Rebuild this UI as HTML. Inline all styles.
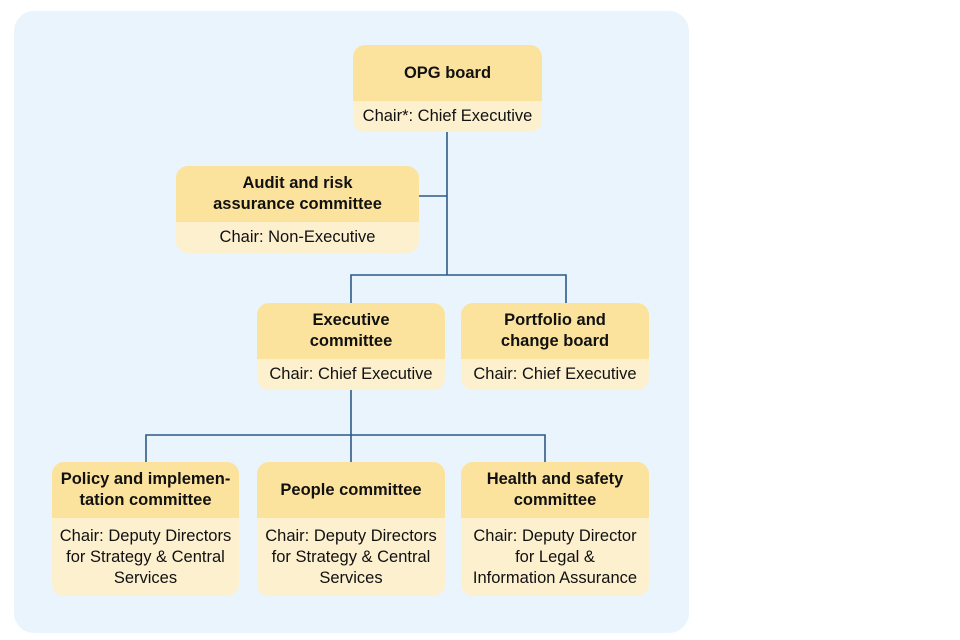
<!DOCTYPE html>
<html><head><style>
body{margin:0;width:960px;height:640px;background:#fff;font-family:"Liberation Sans",sans-serif;position:relative;overflow:hidden}
.panel{position:absolute;left:14px;top:11px;width:675px;height:622px;background:#eaf4fc;border-radius:20px}
.box{position:absolute;border-radius:12px;overflow:hidden;background:#fdf0cf;color:#111;text-align:center;font-size:16.5px;white-space:nowrap}
.h{background:#fce39d;font-weight:bold;display:flex;align-items:center;justify-content:center;line-height:21px}
.b{display:flex;align-items:center;justify-content:center;line-height:21px}
svg{position:absolute;left:0;top:0}
</style></head><body>
<div class="panel"></div>
<svg width="960" height="640"><g stroke="#2d5a87" stroke-width="1.6" fill="none">
<path d="M447 132V275M419 196H447M351 303V275H566V303M351 390V462M146 462V435H545V462"/>
</g></svg>
<div class="box" style="left:353px;top:45px;width:189px;height:87px"><div class="h" style="height:56px">OPG board</div><div class="b" style="height:31px">Chair*: Chief Executive</div></div>
<div class="box" style="left:176px;top:166px;width:243px;height:87px"><div class="h" style="height:56px">Audit and risk<br>assurance committee</div><div class="b" style="height:31px">Chair: Non-Executive</div></div>
<div class="box" style="left:257px;top:303px;width:188px;height:87px"><div class="h" style="height:56px">Executive<br>committee</div><div class="b" style="height:31px">Chair: Chief Executive</div></div>
<div class="box" style="left:461px;top:303px;width:188px;height:87px"><div class="h" style="height:56px">Portfolio and<br>change board</div><div class="b" style="height:31px">Chair: Chief Executive</div></div>
<div class="box" style="left:52px;top:462px;width:187px;height:134px"><div class="h" style="height:56px">Policy and implemen-<br>tation committee</div><div class="b" style="height:78px">Chair: Deputy Directors<br>for Strategy &amp; Central<br>Services</div></div>
<div class="box" style="left:257px;top:462px;width:188px;height:134px"><div class="h" style="height:56px">People committee</div><div class="b" style="height:78px">Chair: Deputy Directors<br>for Strategy &amp; Central<br>Services</div></div>
<div class="box" style="left:461px;top:462px;width:188px;height:134px"><div class="h" style="height:56px">Health and safety<br>committee</div><div class="b" style="height:78px">Chair: Deputy Director<br>for Legal &amp;<br>Information Assurance</div></div>
</body></html>
